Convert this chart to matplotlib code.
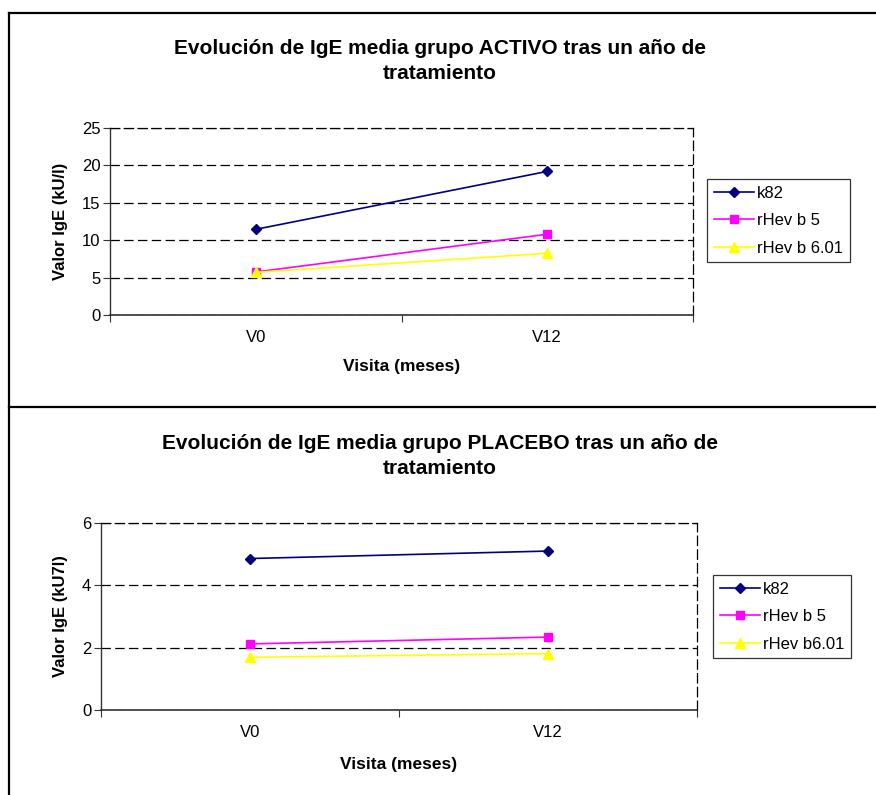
import matplotlib
matplotlib.use("Agg")
import matplotlib.pyplot as plt
from matplotlib.lines import Line2D

plt.rcParams['font.family'] = ['Liberation Sans', 'DejaVu Sans']

visits = ["V0", "V12"]

activo_title = "Evolución de IgE media grupo ACTIVO tras un año de\ntratamiento"
activo_ylabel = "Valor IgE (kU/l)"
activo_labels = ["k82", "rHev b 5", "rHev b 6.01"]
activo_k82 = [11.45, 19.2]
activo_hevb5 = [5.75, 10.8]
activo_hevb601 = [5.7, 8.25]
activo_yticks = [0, 5, 10, 15, 20, 25]

placebo_title = "Evolución de IgE media grupo PLACEBO tras un año de\ntratamiento"
placebo_ylabel = "Valor IgE (kU7l)"
placebo_labels = ["k82", "rHev b 5", "rHev b6.01"]
placebo_k82 = [4.86, 5.10]
placebo_hevb5 = [2.12, 2.34]
placebo_hevb601 = [1.69, 1.81]
placebo_yticks = [0, 2, 4, 6]

xlabel = "Visita (meses)"

colors = ["#000080", "#FF00FF", "#FFFF00"]
markers = ["D", "s", "^"]
msizes = [5, 6, 7]
DASH = (0, (7.5, 3.5))

W, H = 876, 795
fig = plt.figure(figsize=(W / 100, H / 100), dpi=100)


def fx(px):
    return px / W


def fy(py):
    return 1 - py / H


def draw_panel(rect, series, labels, yticks, title, ylabel, title_y, xlab_y, ylab_x, leg_anchor):
    left, right, top, bottom = rect
    ax = fig.add_axes([fx(left), fy(bottom), fx(right - left), (bottom - top) / H])
    xpos = [0.5, 1.5]
    for vals, c, m, ms, lab in zip(series, colors, markers, msizes, labels):
        ax.plot(xpos, vals, color=c, marker=m, markersize=ms, lw=1.2,
                markeredgecolor=c, label=lab, zorder=3)
    ax.set_xlim(0, 2)
    ax.set_ylim(yticks[0], yticks[-1])
    ax.set_yticks(yticks)
    ax.set_xticks([0, 1, 2])
    ax.set_xticklabels([])
    ax.set_xticks(xpos, minor=True)
    ax.set_xticklabels(visits, minor=True, fontsize=12)
    ax.tick_params(axis="x", which="minor", length=0, pad=11)
    ax.tick_params(axis="x", which="major", length=5, direction="out", color="#333333")
    ax.tick_params(axis="y", length=5, direction="out", labelsize=12, pad=2, color="#333333")
    ax.yaxis.grid(True, linestyle=DASH, color="black", lw=0.9)
    ax.set_axisbelow(True)
    for s in ("top", "right"):
        ax.spines[s].set_linestyle(DASH)
        ax.spines[s].set_linewidth(0.9)
    ax.spines["left"].set_color("#333333")
    ax.spines["bottom"].set_color("#333333")
    ax.spines["left"].set_linewidth(1.0)
    ax.spines["bottom"].set_linewidth(1.2)

    fig.text(fx(440), fy(title_y), title, ha="center", va="center",
             fontsize=15, fontweight="bold", linespacing=1.45)
    fig.text(fx(ylab_x), fy((top + bottom) / 2), ylabel, rotation=90,
             ha="center", va="center", fontsize=12, fontweight="bold")
    fig.text(fx((left + right) / 2), fy(xlab_y), xlabel, ha="center", va="center",
             fontsize=12.5, fontweight="bold")

    lx0, ly0 = leg_anchor
    leg = ax.legend(loc="upper left",
                    bbox_to_anchor=(fx(lx0), fy(ly0)), bbox_transform=fig.transFigure,
                    frameon=True, fancybox=False, fontsize=12, handlelength=2.4,
                    handletextpad=0.2, borderpad=0.4, labelspacing=0.75,
                    borderaxespad=0)
    leg.get_frame().set_edgecolor("black")
    leg.get_frame().set_linewidth(0.9)
    return ax


draw_panel((110, 693, 128, 315),
           [activo_k82, activo_hevb5, activo_hevb601], activo_labels, activo_yticks,
           activo_title, activo_ylabel, 61, 367, 60, (707, 179))

draw_panel((101, 697, 523, 710),
           [placebo_k82, placebo_hevb5, placebo_hevb601], placebo_labels, placebo_yticks,
           placebo_title, placebo_ylabel, 456, 765, 60, (713, 575))

# outer frame lines
fig.add_artist(Line2D([fx(8.5), fx(8.5)], [fy(13), 0], color="black", lw=1.6))
fig.add_artist(Line2D([fx(8.5), 1], [fy(13), fy(13)], color="black", lw=1.6))
fig.add_artist(Line2D([fx(8.5), 1], [fy(407), fy(407)], color="black", lw=1.6))

fig.savefig("out.png", dpi=100)
